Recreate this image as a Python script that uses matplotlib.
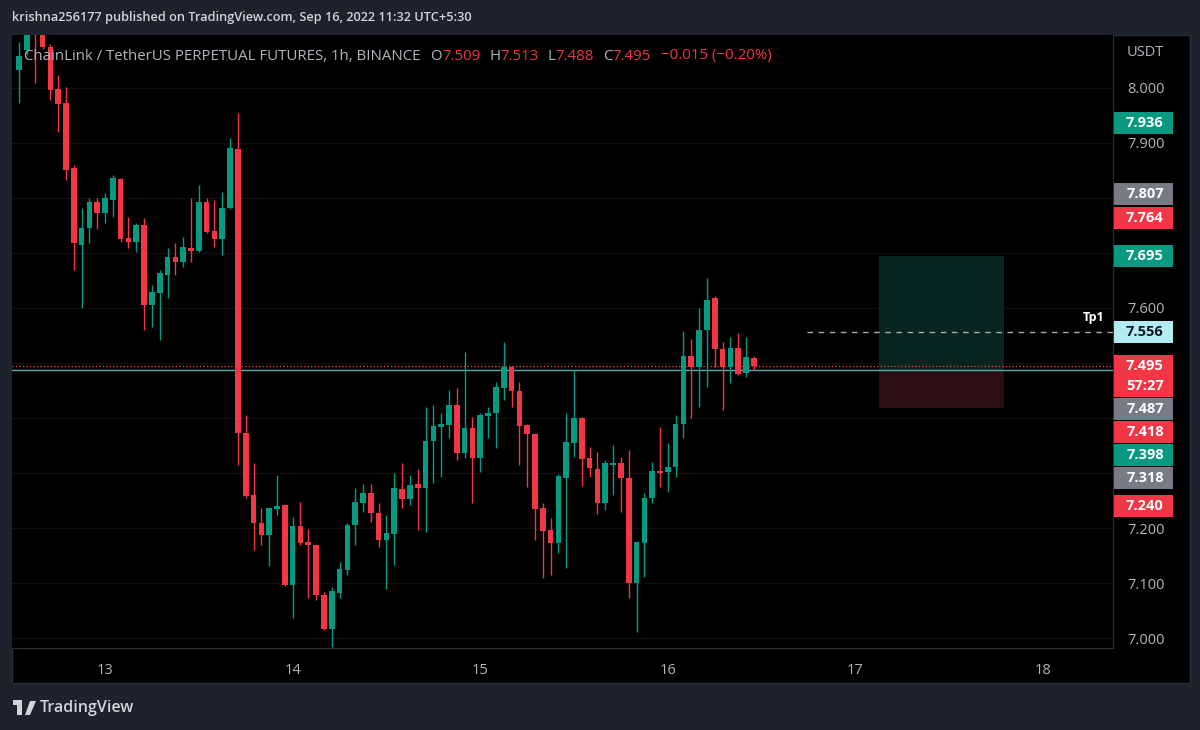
import matplotlib.pyplot as plt
import numpy as np
import pandas as pd
from matplotlib.patches import Rectangle, Polygon
from matplotlib.transforms import blended_transform_factory

plt.rcParams['font.family'] = ['Open Sans', 'DejaVu Sans']

# ---- data: LINK/USDT perp, 1h candles, Binance ----
times = pd.date_range('2022-09-12 13:00', periods=95, freq='h')
opens = [8.033, 8.068, 8.135, 8.110, 8.075, 7.998, 7.973, 7.855, 7.715, 7.745,
         7.793, 7.773, 7.796, 7.834, 7.727, 7.720, 7.751, 7.605, 7.627, 7.660,
         7.693, 7.684, 7.709, 7.704, 7.793, 7.740, 7.725, 7.782, 7.889, 7.373,
         7.260, 7.209, 7.187, 7.235, 7.242, 7.096, 7.204, 7.175, 7.169, 7.078,
         7.016, 7.082, 7.124, 7.205, 7.245, 7.264, 7.227, 7.178, 7.189, 7.271,
         7.253, 7.280, 7.273, 7.358, 7.384, 7.387, 7.424, 7.336, 7.382, 7.327,
         7.404, 7.409, 7.455, 7.493, 7.449, 7.387, 7.371, 7.236, 7.196, 7.173,
         7.291, 7.355, 7.400, 7.327, 7.307, 7.245, 7.315, 7.318, 7.291, 7.100,
         7.173, 7.255, 7.304, 7.302, 7.311, 7.389, 7.513, 7.493, 7.560, 7.618,
         7.525, 7.493, 7.527, 7.482, 7.509]
highs = [8.084, 8.145, 8.160, 8.130, 8.080, 8.024, 8.002, 7.860, 7.782, 7.800,
         7.800, 7.809, 7.842, 7.836, 7.765, 7.755, 7.764, 7.642, 7.669, 7.709,
         7.718, 7.729, 7.800, 7.824, 7.800, 7.796, 7.811, 7.909, 7.955, 7.405,
         7.318, 7.236, 7.238, 7.296, 7.244, 7.220, 7.247, 7.198, 7.170, 7.084,
         7.093, 7.138, 7.209, 7.273, 7.280, 7.280, 7.245, 7.224, 7.300, 7.318,
         7.296, 7.307, 7.420, 7.424, 7.409, 7.451, 7.455, 7.520, 7.402, 7.409,
         7.420, 7.465, 7.538, 7.495, 7.465, 7.389, 7.373, 7.245, 7.218, 7.298,
         7.409, 7.487, 7.402, 7.347, 7.338, 7.324, 7.351, 7.329, 7.342, 7.176,
         7.264, 7.320, 7.384, 7.355, 7.405, 7.558, 7.544, 7.600, 7.655, 7.622,
         7.538, 7.547, 7.555, 7.547, 7.513]
lows = [7.973, 8.060, 8.009, 8.070, 7.978, 7.920, 7.833, 7.669, 7.600, 7.718,
        7.744, 7.755, 7.765, 7.720, 7.709, 7.702, 7.560, 7.565, 7.542, 7.618,
        7.660, 7.675, 7.684, 7.702, 7.736, 7.711, 7.696, 7.780, 7.315, 7.255,
        7.160, 7.169, 7.131, 7.224, 7.094, 7.036, 7.169, 7.073, 7.069, 7.015,
        6.984, 7.073, 7.115, 7.169, 7.229, 7.211, 7.165, 7.089, 7.133, 7.236,
        7.242, 7.196, 7.193, 7.282, 7.293, 7.364, 7.324, 7.327, 7.245, 7.302,
        7.364, 7.345, 7.433, 7.420, 7.315, 7.275, 7.178, 7.109, 7.115, 7.155,
        7.127, 7.329, 7.276, 7.293, 7.225, 7.233, 7.260, 7.229, 7.073, 7.011,
        7.111, 7.245, 7.275, 7.265, 7.293, 7.364, 7.400, 7.420, 7.456, 7.493,
        7.415, 7.464, 7.478, 7.475, 7.488]
closes = [8.058, 8.128, 8.110, 8.075, 7.996, 7.971, 7.851, 7.718, 7.745, 7.793,
          7.773, 7.800, 7.836, 7.725, 7.720, 7.751, 7.605, 7.629, 7.664, 7.693,
          7.684, 7.711, 7.704, 7.793, 7.738, 7.725, 7.782, 7.891, 7.373, 7.258,
          7.209, 7.187, 7.236, 7.240, 7.096, 7.204, 7.173, 7.169, 7.078, 7.016,
          7.085, 7.125, 7.205, 7.247, 7.264, 7.227, 7.178, 7.191, 7.273, 7.253,
          7.278, 7.273, 7.358, 7.385, 7.389, 7.424, 7.336, 7.382, 7.327, 7.405,
          7.409, 7.456, 7.493, 7.449, 7.385, 7.371, 7.235, 7.195, 7.173, 7.295,
          7.356, 7.400, 7.325, 7.309, 7.245, 7.318, 7.318, 7.291, 7.100, 7.175,
          7.255, 7.304, 7.300, 7.311, 7.389, 7.513, 7.493, 7.560, 7.615, 7.525,
          7.493, 7.527, 7.480, 7.510, 7.495]

# long position tool + levels
entry, take_profit, stop_loss = 7.487, 7.695, 7.418
pos_start, pos_end = pd.Timestamp('2022-09-17 03:00'), pd.Timestamp('2022-09-17 19:00')
tp1_price, tp1_start = 7.556, pd.Timestamp('2022-09-16 17:45')
timer_text = '57:27'

# price-scale labels (value, background, text colour)
label_prices = [7.936, 7.807, 7.764, 7.695, 7.556, 7.487, 7.418, 7.398, 7.318, 7.240]
label_bgs = ['#089981', '#787b86', '#f23645', '#089981', '#b2ebf2',
             '#787b86', '#f23645', '#089981', '#787b86', '#f23645']
label_fgs = ['white'] * 4 + ['#131722'] + ['white'] * 5

day_ticks = [13, 14, 15, 16, 17, 18]

# ---- styling ----
W, H = 1200, 730
BG = '#1e222d'
UP, DOWN = '#089981', '#f23645'
TXT, AXT = '#d1d4dc', '#b2b5be'
SEP = '#2a2e39'


def fx(px):
    return px / W


def fy(py):
    return 1 - py / H


def dayfloat(ts):
    return ts.day + ts.hour / 24 + ts.minute / 1440


fig = plt.figure(figsize=(12, 7.3), dpi=100, facecolor=BG)
fig.patches.append(Rectangle((fx(12), fy(683)), fx(1190) - fx(12), fy(35) - fy(683),
                             transform=fig.transFigure, facecolor='black',
                             edgecolor=SEP, lw=1, zorder=-1))
ax = fig.add_axes([fx(12), fy(648), fx(1113) - fx(12), fy(35) - fy(648)])
ax.set_facecolor('black')

x = np.array([dayfloat(t) for t in times])
o, h, l, c = map(np.array, (opens, highs, lows, closes))
col = np.where(c >= o, UP, DOWN)

ax.vlines(x, l, h, colors=col, lw=1, zorder=4)
ax.bar(x, np.maximum(np.abs(c - o), 0.003), bottom=np.minimum(o, c),
       width=0.72 / 24, color=col, lw=0, zorder=5)

ax.set_xlim(12.504, 18.373)
ax.set_ylim(6.982, 8.096)

# position tool
x0, x1 = dayfloat(pos_start), dayfloat(pos_end)
ax.add_patch(Rectangle((x0, entry), x1 - x0, take_profit - entry,
                       facecolor='#07241e', lw=0, zorder=1))
ax.add_patch(Rectangle((x0, stop_loss), x1 - x0, entry - stop_loss,
                       facecolor='#2a0e12', lw=0, zorder=1))

# lines
ax.axhline(entry, color='#5fa9b0', lw=1, zorder=3)
ax.axhline(c[-1], color=DOWN, lw=1, ls=(0, (1, 1.5)), zorder=3)
ax.hlines(tp1_price, dayfloat(tp1_start), ax.get_xlim()[1], colors='#a8abb3',
          lw=1, ls=(0, (4, 4)), zorder=3)
btr = blended_transform_factory(ax.transAxes, ax.transData)
ax.annotate('Tp1', xy=(1, tp1_price), xycoords=btr, xytext=(-6, 6),
            textcoords='offset points', ha='right', va='bottom',
            color='white', fontsize=9, fontweight='bold')

# axes look
for s in ('top', 'left'):
    ax.spines[s].set_visible(False)
for s in ('right', 'bottom'):
    ax.spines[s].set_color(SEP)
yticks = np.round(np.arange(7.0, 8.01, 0.1), 3)
ax.set_yticks(yticks)
ax.grid(axis='y', color='#0f0f0f', lw=1)
ax.set_axisbelow(True)
ax.yaxis.tick_right()
ax.set_xticks(day_ticks)
ax.set_xticklabels([str(d) for d in day_ticks])
ax.tick_params(axis='x', length=0, pad=11, labelcolor=AXT, labelsize=10.5)
ax.tick_params(axis='y', length=0, pad=10, labelcolor=AXT, labelsize=10.5)

# ---- price-scale labels, stacked so they don't overlap ----
entries = [(p, b, f, None) for p, b, f in zip(label_prices, label_bgs, label_fgs)]
entries.append((c[-1], DOWN, 'white', timer_text))
entries.sort(key=lambda e: -e[0])
boxes = []
prev_bottom = None
for price, bg, fg, extra in entries:
    yc = H - ax.transData.transform((0, price))[1]
    hgt = 42 if extra else 22
    top = yc - 11
    if prev_bottom is not None:
        top = max(top, prev_bottom + 1)
    prev_bottom = top + hgt
    boxes.append((top, top + hgt))
    fig.patches.append(Rectangle((fx(1114), fy(top + hgt)), fx(59), hgt / H,
                                 transform=fig.transFigure, facecolor=bg, lw=0, zorder=3))
    fig.text(fx(1145), fy(top + 11), f'{price:.3f}', ha='center', va='center',
             color=fg, fontsize=10.5, fontweight='bold', zorder=4)
    if extra:
        fig.text(fx(1145), fy(top + 31), extra, ha='center', va='center',
                 color=fg, fontsize=10.5, fontweight='bold', zorder=4)

ylabels = []
for v in yticks:
    py = H - ax.transData.transform((0, v))[1]
    hidden = any(b0 - 5 <= py <= b1 + 5 for b0, b1 in boxes)
    ylabels.append('' if hidden else f'{v:.3f}')
ax.set_yticklabels(ylabels)

fig.text(fx(1145), fy(53), 'USDT', ha='center', va='center', color=AXT, fontsize=10.5)

# ---- header texts ----
fig.text(fx(12), fy(18), 'krishna256177 published on TradingView.com, Sep 16, 2022 11:32 UTC+5:30',
         ha='left', va='center', color=TXT, fontsize=9.2, fontweight='semibold')

chg = c[-1] - c[-2]
pct = chg / c[-2] * 100
segments = [('ChainLink / TetherUS PERPETUAL FUTURES, 1h, BINANCE', AXT, 10),
            ('O', AXT, 0), (f'{o[-1]:.3f}', DOWN, 9),
            ('H', AXT, 0), (f'{h[-1]:.3f}', DOWN, 9),
            ('L', AXT, 0), (f'{l[-1]:.3f}', DOWN, 9),
            ('C', AXT, 0), (f'{c[-1]:.3f}', DOWN, 10),
            (f'{chg:+.3f} ({pct:+.2f}%)'.replace('-', '\u2212'), DOWN, 0)]
renderer = fig.canvas.get_renderer()
xpos = 24
for s, colr, gap in segments:
    t = fig.text(fx(xpos), fy(56), s, ha='left', va='center', color=colr, fontsize=10.8)
    bb = t.get_window_extent(renderer=renderer)
    xpos += bb.width + gap

# ---- TradingView footer ----
logo = '#d1d4dc'
fig.patches.append(Rectangle((fx(13), fy(705)), fx(9), 5 / H, transform=fig.transFigure,
                             facecolor=logo, lw=0))
fig.patches.append(Rectangle((fx(17), fy(715)), fx(5), 14 / H, transform=fig.transFigure,
                             facecolor=logo, lw=0))
fig.patches.append(Polygon([(fx(25), fy(715)), (fx(30), fy(701)), (fx(36), fy(701)),
                            (fx(30), fy(715))], closed=True, transform=fig.transFigure,
                           facecolor=logo, lw=0))
fig.text(fx(40), fy(708), 'TradingView', ha='left', va='center', color=logo,
         fontsize=11.5, fontweight='semibold')

fig.savefig('out.png', dpi=100, facecolor=BG)
